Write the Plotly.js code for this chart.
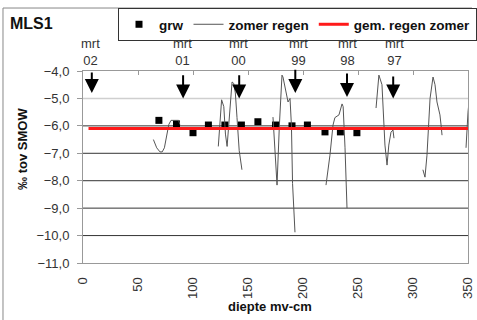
<!DOCTYPE html>
<html>
<head>
<meta charset="utf-8">
<script src="https://cdn.plot.ly/plotly-3.0.1.min.js"></script>
<style>html,body{margin:0;padding:0;background:#fff}#chart{width:477px;height:320px}</style>
</head>
<body>
<div id="chart"></div>
<script>
// grondwater (grw) samples
var grwX = [69, 85, 100, 114, 129, 144, 159, 175, 190, 204, 220, 234, 249];
var grwY = [-5.8, -5.93, -6.25, -5.97, -5.97, -5.97, -5.85, -5.97, -6.0, -5.97, -6.22, -6.22, -6.25];

// zomer regen (segments separated by null)
var regenX = [64, 67, 70, 72, 74, 76, 78, 80, 84, 87, 88, null,
  123, 124.5, 126, 128, 129.5, 131, 132.5, 134, 135.5, 137, 138.5, 140, 142, 144.5, null,
  172.7, 174.5, 176.4, 178.5, 180.9, 181.8, 183.5, 185.5, 186.4, 188.2, 189.5, 190.5, 192.7, null,
  220.9, 224.5, 227.3, 229, 232.7, 235.5, 236.5, 238.2, 240, null,
  266.4, 268.2, 269, 271.8, 272.7, 274.5, 276.4, 278, 280, 281.8, 282.7, null,
  309, 310.9, 312.7, 313.6, 315.5, 318.2, 320, 321.8, 324.5, 325.5, 326.4, null,
  348.2, 349, 350, 351.8];
var regenY = [-6.5, -6.8, -6.95, -6.95, -6.8, -6.4, -5.95, -5.8, -5.8, -5.8, -5.95, null,
  -6.75, -5.9, -5.05, -5.3, -6.3, -6.75, -5.9, -4.9, -4.4, -4.45, -4.8, -5.7, -6.9, -7.6, null,
  -5.68, -7.0, -8.16, -6.0, -4.15, -4.22, -4.6, -5.0, -5.13, -5.0, -6.0, -8.1, -9.88, null,
  -8.16, -7.07, -5.97, -5.7, -5.6, -5.2, -5.3, -6.8, -9.0, null,
  -5.35, -4.26, -4.15, -4.5, -5.35, -6.7, -7.43, -6.7, -6.23, -6.15, -6.45, null,
  -7.6, -7.87, -7.07, -6.23, -5.0, -4.22, -4.5, -5.13, -5.6, -5.97, -6.34, null,
  -6.8, -6.23, -5.5, -4.77];

// gemiddelde regen zomer
var meanX = [5, 350];
var meanY = [-6.1, -6.1];

// maart markers
var mrtLabels = ["02", "01", "00", "99", "98", "97"];
var mrtLabelX = [6.5, 90, 141, 195.5, 240, 283.5];
var mrtArrowX = [8, 91, 142, 193, 240, 282];
var mrtTail = [-4.0, -4.1, -4.1, -3.9, -4.04, -4.15];
var mrtHead = [-4.8, -5.0, -5.0, -4.8, -4.95, -5.0];

var xTicks = [0, 50, 100, 150, 200, 250, 300, 350];
var yTicks = [-11, -10, -9, -8, -7, -6, -5, -4];
var gridDark = [-10, -9, -8, -7, -6];
var gridLight = [-5];

var FONT = "Arial, 'Liberation Sans', sans-serif";

var traces = [
  {x: grwX, y: grwY, type: 'scatter', mode: 'markers', name: 'grw',
   marker: {symbol: 'square', size: 7, color: '#000'}},
  {x: regenX, y: regenY, type: 'scatter', mode: 'lines', name: 'zomer regen',
   connectgaps: false, line: {color: '#555', width: 1}},
  {x: meanX, y: meanY, type: 'scatter', mode: 'lines', name: 'gem. regen zomer',
   xaxis: 'x2', line: {color: '#ff1a1a', width: 3}}
];

var annotations = [];
for (var i = 0; i < mrtLabels.length; i++) {
  annotations.push({x: mrtLabelX[i], xref: 'x', y: 1.099, yref: 'paper',
    text: 'mrt<br>' + mrtLabels[i], showarrow: false, xanchor: 'center', yanchor: 'middle',
    font: {family: FONT, size: 13, color: '#333'}});
  annotations.push({x: mrtArrowX[i], y: mrtHead[i], xref: 'x', yref: 'y',
    ax: mrtArrowX[i], ay: mrtTail[i], axref: 'x', ayref: 'y',
    text: '', showarrow: true, arrowhead: 2, arrowsize: 1.4, arrowwidth: 2, arrowcolor: '#000'});
}
annotations.push({x: 0.486, y: -0.229, xref: 'paper', yref: 'paper', text: 'diepte mv-cm',
  xanchor: 'center', yanchor: 'middle',
  showarrow: false, font: {family: FONT, size: 13, color: '#111', weight: 'bold'}});
annotations.push({x: -0.156, y: 0.594, xref: 'paper', yref: 'paper', text: '‰ tov SMOW',
  xanchor: 'center', yanchor: 'middle',
  textangle: -90, showarrow: false, font: {family: FONT, size: 13, color: '#111', weight: 'bold'}});

var shapes = [];
gridDark.forEach(function (v) {
  shapes.push({type: 'line', xref: 'paper', yref: 'y', x0: 0, x1: 1, y0: v, y1: v,
    line: {color: '#333', width: 1}, layer: 'below'});
});
gridLight.forEach(function (v) {
  shapes.push({type: 'line', xref: 'paper', yref: 'y', x0: 0, x1: 1, y0: v, y1: v,
    line: {color: '#cfcfcf', width: 1.5}, layer: 'below'});
});
shapes.push({type: 'line', xref: 'paper', yref: 'paper', x0: -0.2078, x1: -0.2078, y0: 1.328, y1: -0.32,
  line: {color: '#888', width: 1}});
shapes.push({type: 'line', xref: 'paper', yref: 'paper', x0: -0.2078, x1: 1.0104, y0: 1.328, y1: 1.328,
  line: {color: '#888', width: 1}});

var layout = {
  width: 477, height: 320,
  margin: {l: 83, r: 9, t: 71, b: 57, autoexpand: false},
  paper_bgcolor: '#fff', plot_bgcolor: '#fff',
  separators: ',.',
  font: {family: FONT, size: 13, color: '#333'},
  title: {text: 'MLS1', x: 10 / 477, xref: 'container', xanchor: 'left',
          y: 0.928, yref: 'container', yanchor: 'middle',
          font: {family: FONT, size: 16, color: '#111', weight: 'bold'}},
  showlegend: true,
  legend: {orientation: 'h', x: 118 / 477, y: 1 - 8 / 320, xref: 'container', yref: 'container',
           xanchor: 'left', yanchor: 'top',
           bgcolor: '#fff', bordercolor: '#333', borderwidth: 1,
           font: {family: FONT, size: 13.5, color: '#111', weight: 'bold'}},
  xaxis: {range: [0, 350], tickvals: xTicks, tickangle: -90, showgrid: false, zeroline: false,
          showline: true, linecolor: '#999', linewidth: 1, ticks: 'outside', ticklen: 8,
          tickcolor: 'rgba(0,0,0,0)', tickfont: {family: FONT, size: 13, color: '#333'},
          fixedrange: true},
  xaxis2: {range: [0, 350], overlaying: 'x', side: 'top', tickvals: xTicks, showticklabels: false,
           showgrid: false, zeroline: false, showline: true, linecolor: '#999', linewidth: 1,
           ticks: 'inside', ticklen: 4, tickcolor: '#999'},
  yaxis: {range: [-11, -4], tickvals: yTicks, tickformat: '.1f', showgrid: false,
          zeroline: false, showline: true, mirror: true, linecolor: '#999', linewidth: 1,
          ticks: 'outside', ticklen: 5, tickcolor: '#999', ticklabelstandoff: 5,
          tickfont: {family: FONT, size: 13, color: '#333'}},
  shapes: shapes,
  annotations: annotations
};

Plotly.newPlot('chart', traces, layout, {staticPlot: true, displayModeBar: false});
</script>
</body>
</html>
